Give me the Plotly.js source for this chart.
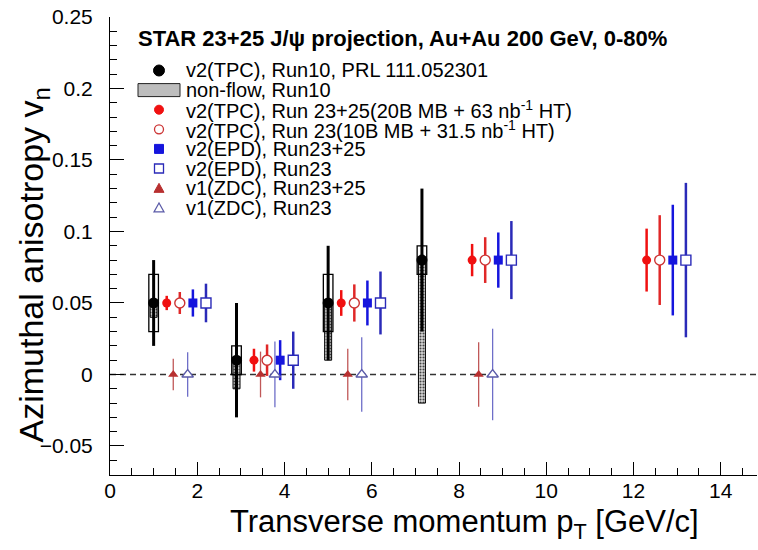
<!DOCTYPE html>
<html><head><meta charset="utf-8">
<script src="https://cdn.plot.ly/plotly-3.0.1.min.js"></script>
<style>html,body{margin:0;padding:0;background:#fff}#chart{width:758px;height:550px}</style>
</head><body><div id="chart"></div>
<script>
// ---- data ----
// Run10 published v2 (black)
const run10X = [1.0, 2.9, 5.0, 7.15];
const run10V2 = [0.05, 0.01, 0.05, 0.08];
const run10Stat = [0.03, 0.04, 0.04, 0.05];
const run10Sys = [0.02, 0.01, 0.02, 0.01];
const run10NonFlowLow = [0.04, -0.01, 0.01, -0.02];

// v2(TPC), Run 23+25
const tpc2325X = [1.3, 3.3, 5.3, 8.3, 12.3];
const tpc2325V2 = [0.05, 0.01, 0.05, 0.08, 0.08];
const tpc2325Err = [0.005, 0.008, 0.009, 0.0113, 0.022];
// v2(TPC), Run 23
const tpc23X = [1.6, 3.6, 5.6, 8.6, 12.6];
const tpc23V2 = [0.05, 0.01, 0.05, 0.08, 0.08];
const tpc23Err = [0.0077, 0.011, 0.013, 0.016, 0.0314];
// v2(EPD), Run23+25
const epd2325X = [1.9, 3.9, 5.9, 8.9, 12.9];
const epd2325V2 = [0.05, 0.01, 0.05, 0.08, 0.08];
const epd2325Err = [0.0095, 0.014, 0.0157, 0.0193, 0.0387];
// v2(EPD), Run23
const epd23X = [2.2, 4.2, 6.2, 9.2, 13.2];
const epd23V2 = [0.05, 0.01, 0.05, 0.08, 0.08];
const epd23Err = [0.0135, 0.02, 0.022, 0.0273, 0.054];
// v1(ZDC), Run23+25
const zdc2325X = [1.45, 3.45, 5.45, 8.45];
const zdc2325V1 = [0, 0, 0, 0];
const zdc2325Err = [0.011, 0.016, 0.018, 0.0225];
// v1(ZDC), Run23
const zdc23X = [1.78, 3.78, 5.77, 8.77];
const zdc23V1 = [0, 0, 0, 0];
const zdc23Err = [0.0155, 0.023, 0.026, 0.032];

const legendLabels = [
  "v2(TPC), Run10, PRL 111.052301",
  "non-flow, Run10",
  "v2(TPC), Run 23+25(20B MB + 63 nb<sup>-1</sup> HT)",
  "v2(TPC), Run 23(10B MB + 31.5 nb<sup>-1</sup> HT)",
  "v2(EPD), Run23+25",
  "v2(EPD), Run23",
  "v1(ZDC), Run23+25",
  "v1(ZDC), Run23"
];
const chartTitle = "STAR 23+25 J/\u03c8 projection, Au+Au 200 GeV, 0-80%";
const xTitle = "Transverse momentum p<sub>T</sub> [GeV/c]";
const yTitle = "Azimuthal anisotropy v<sub>n</sub>";

// ---- styling ----
const FONT = "Liberation Sans, Arial, Helvetica, sans-serif";
const W = 758, H = 550;
const M = {l: 110, r: 1, t: 17, b: 75};
const px = x => (x - M.l) / (W - M.l - M.r);
const py = y => (H - M.b - y) / (H - M.t - M.b);

const C = {
  red: "#f01010", redOpen: "#cc3333", blue: "#1515dd", blueOpen: "#2a2ab8",
  triRed: "#b83030", triRedErr: "#c05858", triBlue: "#5a5aa8", triBlueErr: "#6e6ec8"
};

function sub(a, b) { return a.map((v, i) => v - b[i]); }

const traces = [
  // non-flow hatched bands
  {type: "bar", x: run10X, base: run10NonFlowLow, y: sub(run10V2, run10NonFlowLow), width: 0.16,
   marker: {color: "#b8b8b8", line: {color: "#000", width: 1},
            pattern: {shape: ".", fgcolor: "#444", bgcolor: "#d8d8d8", size: 3, solidity: 0.4}},
   showlegend: false, hoverinfo: "skip"},
  // systematic boxes
  {type: "bar", x: run10X, base: sub(run10V2, run10Sys), y: run10Sys.map(s => 2 * s), width: 0.22,
   marker: {color: "rgba(0,0,0,0)", line: {color: "#000", width: 1.3}},
   showlegend: false, hoverinfo: "skip"},
  // Run10 points
  {type: "scatter", mode: "markers", x: run10X, y: run10V2,
   error_y: {type: "data", array: run10Stat, color: "#000", thickness: 3, width: 0},
   marker: {symbol: "circle", size: 11, color: "#000"}, showlegend: false},
  {type: "scatter", mode: "markers", x: tpc2325X, y: tpc2325V2,
   error_y: {type: "data", array: tpc2325Err, color: C.red, thickness: 2.5, width: 0},
   marker: {symbol: "circle", size: 9, color: C.red}, showlegend: false},
  {type: "scatter", mode: "markers", x: tpc23X, y: tpc23V2,
   error_y: {type: "data", array: tpc23Err, color: "#e02828", thickness: 2.5, width: 0},
   marker: {symbol: "circle", size: 10, color: "#fff", line: {color: C.redOpen, width: 1.4}}, showlegend: false},
  {type: "scatter", mode: "markers", x: epd2325X, y: epd2325V2,
   error_y: {type: "data", array: epd2325Err, color: C.blue, thickness: 2.5, width: 0},
   marker: {symbol: "square", size: 9, color: C.blue}, showlegend: false},
  {type: "scatter", mode: "markers", x: epd23X, y: epd23V2,
   error_y: {type: "data", array: epd23Err, color: C.blueOpen, thickness: 2.5, width: 0},
   marker: {symbol: "square", size: 10, color: "#fff", line: {color: C.blueOpen, width: 1.4}}, showlegend: false},
  {type: "scatter", mode: "markers", x: zdc2325X, y: zdc2325V1,
   error_y: {type: "data", array: zdc2325Err, color: C.triRedErr, thickness: 1.3, width: 0},
   marker: {symbol: "triangle-up", size: 9, color: C.triRed}, showlegend: false},
  {type: "scatter", mode: "markers", x: zdc23X, y: zdc23V1,
   error_y: {type: "data", array: zdc23Err, color: C.triBlueErr, thickness: 1.3, width: 0},
   marker: {symbol: "triangle-up", size: 10, color: "#fff", line: {color: C.triBlue, width: 1.3}}, showlegend: false}
];

// ---- hand-built legend (ROOT style, tight spacing) ----
const LEG_Y0 = 70.5, LEG_DY = 19.6, KEY_X = 159, TEXT_X = 184;
const shapes = [
  {type: "line", xref: "paper", x0: 0, x1: 1, yref: "y", y0: 0, y1: 0,
   line: {color: "#333", width: 1.3, dash: "6px,4px"}, layer: "below"}
];
function keyShape(i, kind) {
  const yc = py(LEG_Y0 + i * LEG_DY), xc = px(KEY_X);
  const base = {xref: "paper", yref: "paper", xsizemode: "pixel", ysizemode: "pixel", xanchor: xc, yanchor: yc};
  if (kind.type === "circle") return Object.assign(base, {type: "circle", x0: -kind.r, x1: kind.r, y0: -kind.r, y1: kind.r,
      fillcolor: kind.fill, line: {color: kind.line, width: kind.lw || 1}});
  if (kind.type === "rect") return Object.assign(base, {type: "rect", x0: -kind.w / 2, x1: kind.w / 2, y0: -kind.h / 2, y1: kind.h / 2,
      fillcolor: kind.fill, line: {color: kind.line, width: kind.lw || 1}});
  if (kind.type === "tri") { const s = kind.s;
    return Object.assign(base, {type: "path", path: `M${-s},${-s * 0.85} L${s},${-s * 0.85} L0,${s * 0.95} Z`,
      fillcolor: kind.fill, line: {color: kind.line, width: kind.lw || 1}}); }
}
const keys = [
  {type: "circle", r: 5.5, fill: "#000", line: "#000"},
  {type: "rect", w: 42, h: 13, fill: "#bdbdbd", line: "#222"},
  {type: "circle", r: 4.5, fill: C.red, line: C.red},
  {type: "circle", r: 4.5, fill: "#fff", line: C.redOpen, lw: 1.3},
  {type: "rect", w: 9, h: 9, fill: C.blue, line: C.blue},
  {type: "rect", w: 9, h: 9, fill: "#fff", line: C.blueOpen, lw: 1.3},
  {type: "tri", s: 5, fill: C.triRed, line: C.triRed},
  {type: "tri", s: 5, fill: "#fff", line: C.triBlue, lw: 1.2}
];
keys.forEach((k, i) => shapes.push(keyShape(i, k)));

const annotations = legendLabels.map((t, i) => ({
  text: t, xref: "paper", yref: "paper", x: px(TEXT_X), y: py(LEG_Y0 + i * LEG_DY),
  xanchor: "left", yanchor: "middle", showarrow: false, font: {family: FONT, size: 20, color: "#000"}
}));
annotations.push({text: "<b>" + chartTitle + "</b>", xref: "paper", yref: "paper", x: px(402), y: py(38),
  xanchor: "center", yanchor: "middle", showarrow: false, font: {family: FONT, size: 22, color: "#000"}});
annotations.push({text: xTitle, xref: "paper", yref: "paper", x: px(701), y: py(524),
  xanchor: "right", yanchor: "middle", showarrow: false, font: {family: FONT, size: 31, color: "#000"}});
annotations.push({text: yTitle, xref: "paper", yref: "paper", x: px(33), y: py(86), textangle: -90,
  xanchor: "center", yanchor: "top", showarrow: false, font: {family: FONT, size: 34, color: "#000"}});

const layout = {
  width: W, height: H, margin: M, paper_bgcolor: "#fff", plot_bgcolor: "#fff",
  font: {family: FONT, color: "#000"}, showlegend: false, barmode: "overlay", bargap: 0,
  xaxis: {range: [0, 14.83], tick0: 0, dtick: 2, ticks: "inside", ticklen: 13, tickwidth: 1, tickcolor: "#000",
          minor: {dtick: 0.5, ticks: "inside", ticklen: 7, tickcolor: "#000"},
          showline: true, linecolor: "#000", linewidth: 1, showgrid: false, zeroline: false,
          tickfont: {family: FONT, size: 21}, ticklabelstandoff: -3},
  yaxis: {range: [-0.0703, 0.25], tick0: 0, dtick: 0.05, ticks: "inside", ticklen: 14, tickwidth: 1, tickcolor: "#000",
          minor: {dtick: 0.01, ticks: "inside", ticklen: 7, tickcolor: "#000"},
          showline: true, linecolor: "#000", linewidth: 1, showgrid: false, zeroline: false,
          tickfont: {family: FONT, size: 21}, ticklabelstandoff: 12},
  shapes: shapes, annotations: annotations
};

Plotly.newPlot("chart", traces, layout, {staticPlot: true, displayModeBar: false});
</script></body></html>
